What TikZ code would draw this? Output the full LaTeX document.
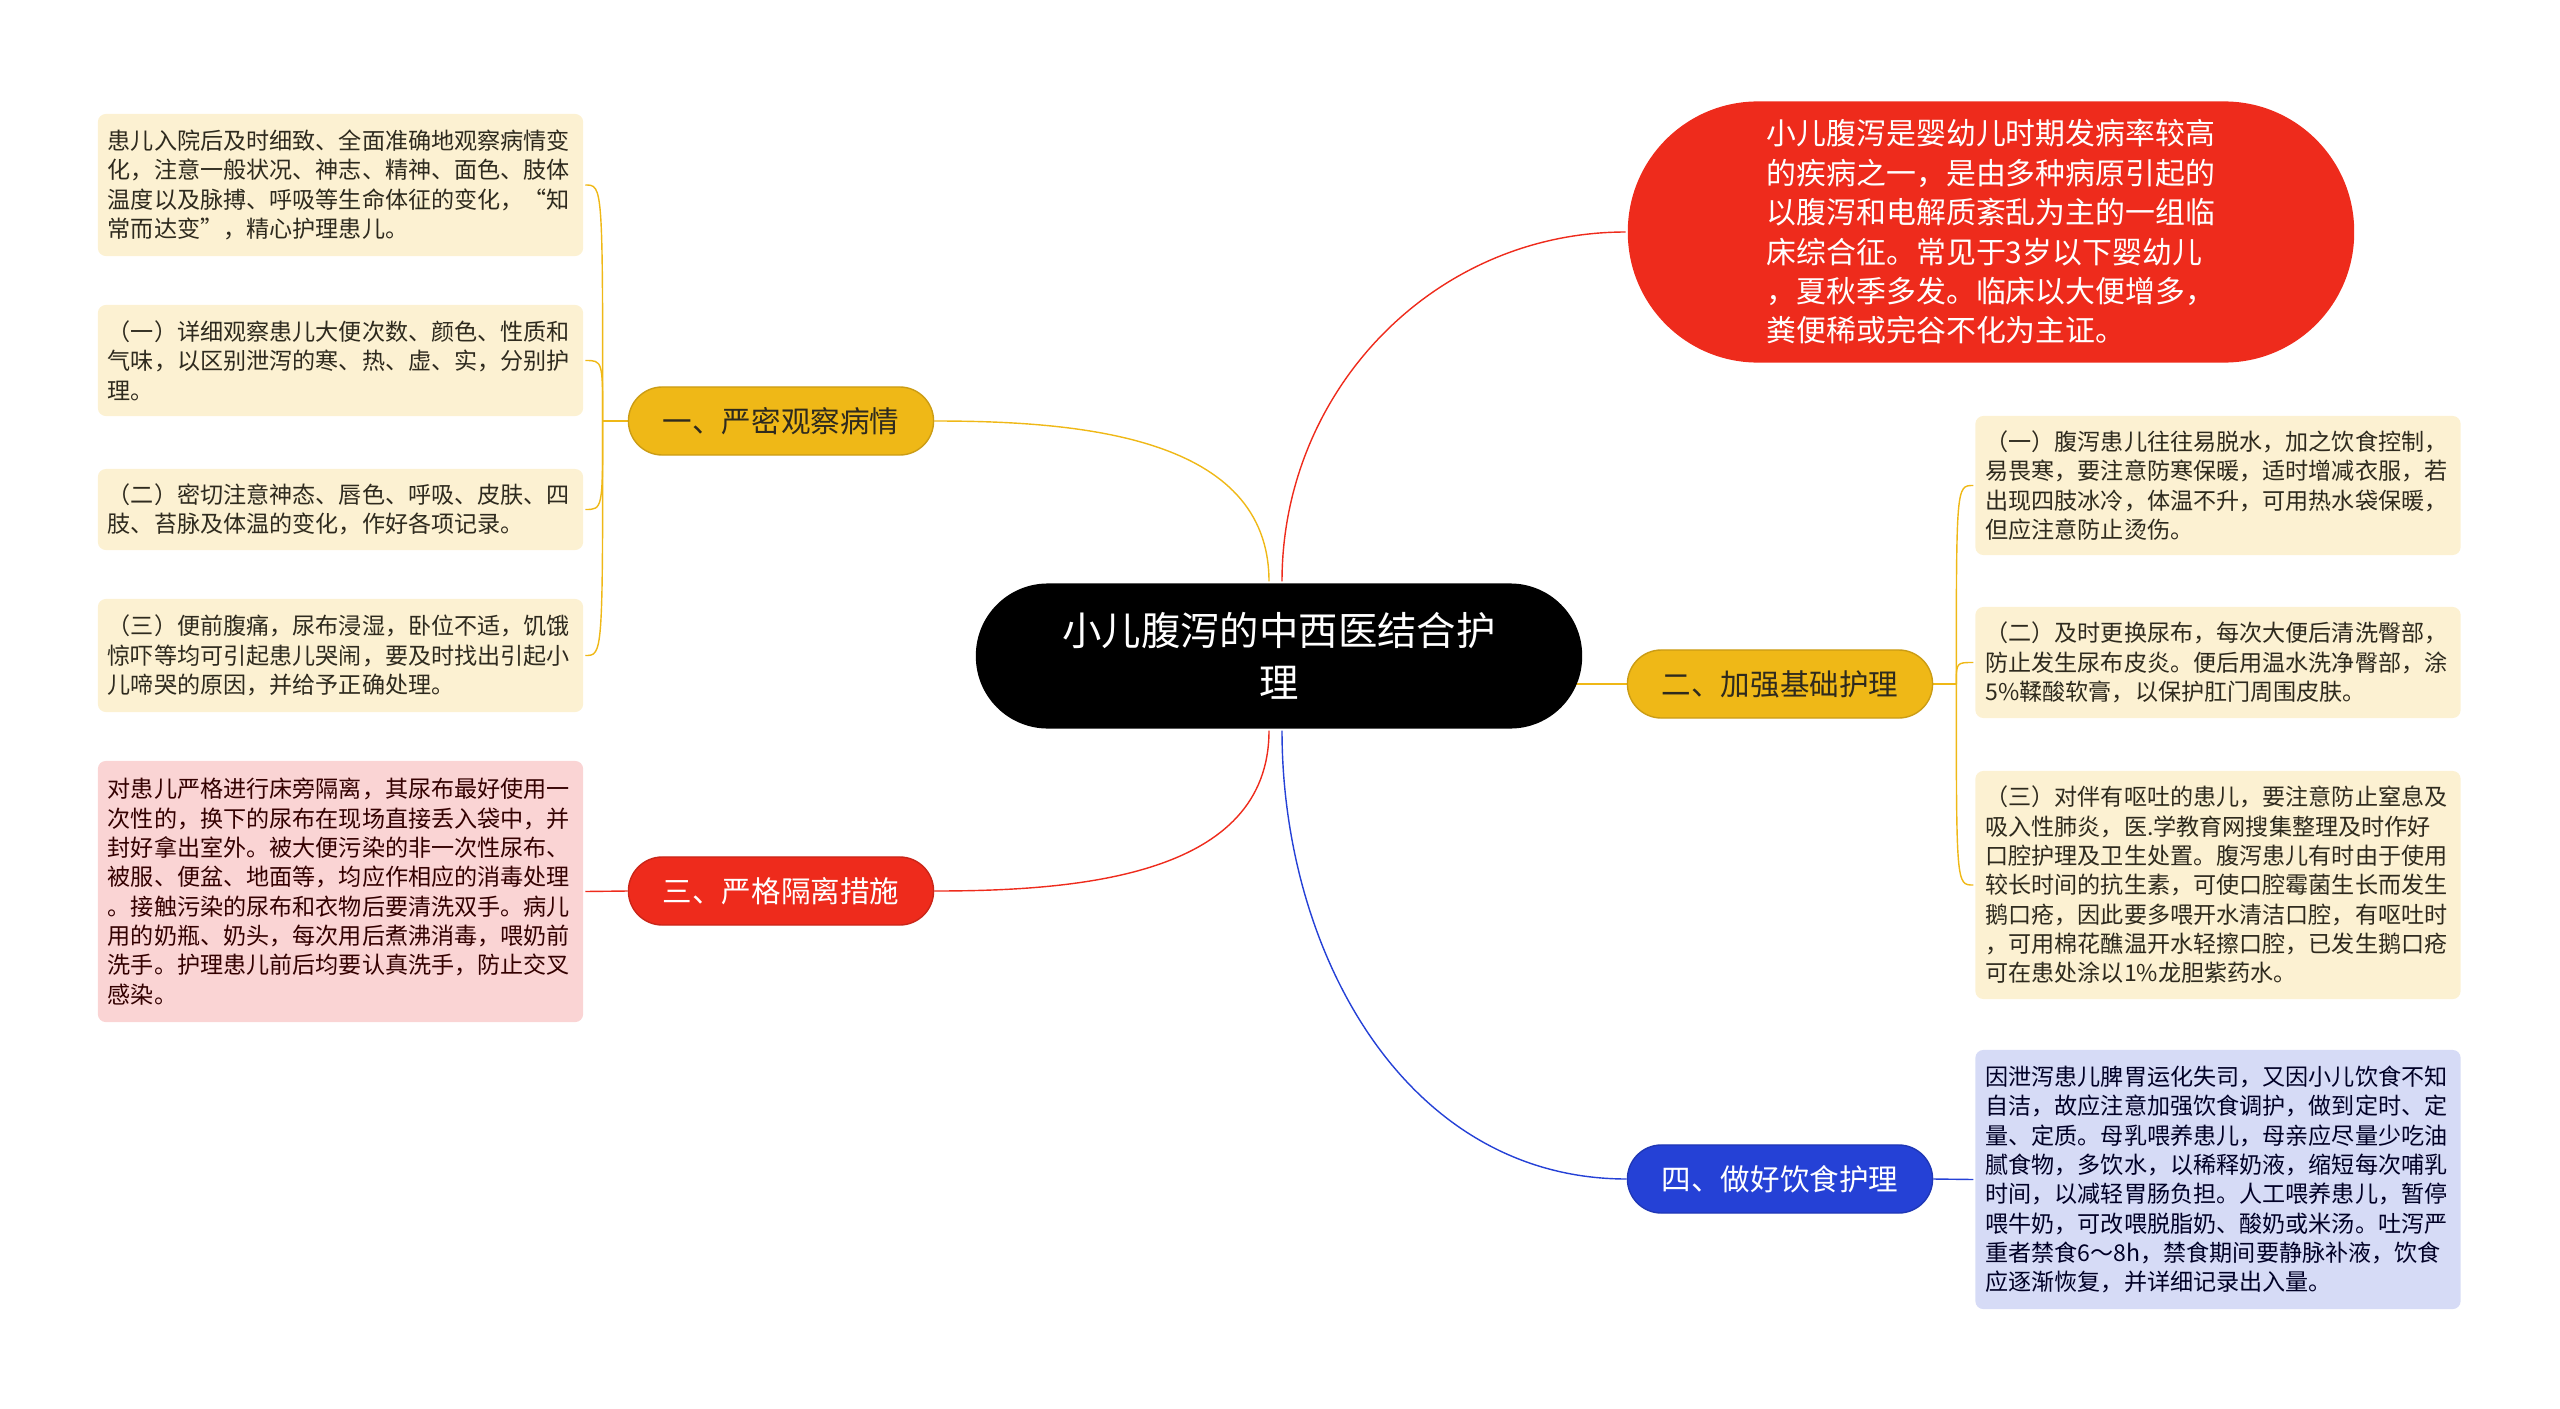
\documentclass[tikz,border=0pt]{standalone}
\usepackage{fontspec}
\setmainfont{Noto Sans CJK SC}
\usetikzlibrary{backgrounds}

\definecolor{mmyellow}{HTML}{EFB817}
\definecolor{mmred}{HTML}{EE2B1C}
\definecolor{mmblue}{HTML}{2541D6}
\definecolor{leafcream}{HTML}{FCF1D2}
\definecolor{leafpink}{HTML}{FAD4D4}
\definecolor{leafblue}{HTML}{D6DBF6}
\definecolor{darktext}{HTML}{2E2A1E}

\begin{document}
\begin{tikzpicture}[
                x=0.01cm, y=-0.01cm,
                line width=1.2pt,
                root/.style={fill=black,text=white,rounded corners=0.72cm,minimum width=6.06cm,minimum height=1.45cm,align=center,font=\fontsize{11.2pt}{14.8pt}\selectfont},
                summ/.style={fill=mmred,text=white,rounded corners=1.3cm,minimum width=7.26cm,minimum height=2.61cm,align=left,font=\fontsize{8.5pt}{11.2pt}\selectfont},
                branch/.style={rounded corners=0.34cm,minimum width=3.05cm,minimum height=0.68cm,inner sep=0pt,line width=0.4pt,font=\fontsize{8.4pt}{10pt}\selectfont},
                leaf/.style={rounded corners=0.08cm,text width=4.65cm,inner xsep=0.1cm,inner ysep=0pt,align=left,font=\fontsize{6.57pt}{8.34pt}\selectfont},
                ylink/.style={draw=mmyellow},
                rlink/.style={draw=mmred},
                blink/.style={draw=mmblue}] %

\useasboundingbox (0,0) rectangle (2560,1409);

% root
\node[root] (CENTER) at (1279,656) {小儿腹泻的中西医结合护\\理};

\node[summ] (SUMM) at (1991,232) {小儿腹泻是婴幼儿时期发病率较高\\
的疾病之一，是由多种病原引起的\\
以腹泻和电解质紊乱为主的一组临\\
床综合征。常见于3岁以下婴幼儿\\
，夏秋季多发。临床以大便增多，\\
粪便稀或完谷不化为主证。};

%%%%%%%%%%%%%%%%%%%%%%%%%%%%%%%%%%%%%%%%%%%%%%%%%%%%%%%%%%%%%%%%%%%%%%%%%%%%%%%%%%%%

                    % 1
                    \node[branch,fill=mmyellow,draw=mmyellow!85!black,text=darktext] (OBS) at (781,421) {一、严密观察病情};
                    \coordinate (OBSJ) at ([xshift=-0.25cm]OBS.west);

                    \node[leaf,fill=leafcream,text=darktext,minimum height=1.42cm] (OBS0) at (340.5,185) {患儿入院后及时细致、全面准确地观察病情变\\
化，注意一般状况、神志、精神、面色、肢体\\
温度以及脉搏、呼吸等生命体征的变化，“知\\
常而达变”，精心护理患儿。};
                    \node[leaf,fill=leafcream,text=darktext,minimum height=1.11cm] (OBS1) at (340.5,360.5) {（一）详细观察患儿大便次数、颜色、性质和\\
气味，以区别泄泻的寒、热、虚、实，分别护\\
理。};
                    \node[leaf,fill=leafcream,text=darktext,minimum height=0.81cm] (OBS2) at (340.5,509.5) {（二）密切注意神态、唇色、呼吸、皮肤、四\\
肢、苔脉及体温的变化，作好各项记录。};
                    \node[leaf,fill=leafcream,text=darktext,minimum height=1.13cm] (OBS3) at (340.5,655.5) {（三）便前腹痛，尿布浸湿，卧位不适，饥饿\\
惊吓等均可引起患儿哭闹，要及时找出引起小\\
儿啼哭的原因，并给予正确处理。};


                    % 2
                    \node[branch,fill=mmyellow,draw=mmyellow!85!black,text=darktext] (BASIC) at (1780,684) {二、加强基础护理};
                    \coordinate (BASICJ) at ([xshift=0.23cm]BASIC.east);

                    \node[leaf,fill=leafcream,text=darktext,minimum height=1.39cm] (BASIC1) at (2218,485.5) {（一）腹泻患儿往往易脱水，加之饮食控制，\\
易畏寒，要注意防寒保暖，适时增减衣服，若\\
出现四肢冰冷，体温不升，可用热水袋保暖，\\
但应注意防止烫伤。};
                    \node[leaf,fill=leafcream,text=darktext,minimum height=1.11cm] (BASIC2) at (2218,662.5) {（二）及时更换尿布，每次大便后清洗臀部，\\
防止发生尿布皮炎。便后用温水洗净臀部，涂\\
5\%鞣酸软膏，以保护肛门周围皮肤。};
                    \node[leaf,fill=leafcream,text=darktext,minimum height=2.28cm] (BASIC3) at (2218,885) {（三）对伴有呕吐的患儿，要注意防止窒息及\\
吸入性肺炎，医.学教育网搜集整理及时作好\\
口腔护理及卫生处置。腹泻患儿有时由于使用\\
较长时间的抗生素，可使口腔霉菌生长而发生\\
鹅口疮，因此要多喂开水清洁口腔，有呕吐时\\
，可用棉花醮温开水轻擦口腔，已发生鹅口疮\\
可在患处涂以1\%龙胆紫药水。};


                    % 3
                    \node[branch,fill=mmred,draw=mmred!85!black,text=white] (ISOL) at (781,891) {三、严格隔离措施};

                    \node[leaf,fill=leafpink,text=black!80!red,minimum height=2.61cm] (ISOL1) at (340.5,891.5) {对患儿严格进行床旁隔离，其尿布最好使用一\\
次性的，换下的尿布在现场直接丢入袋中，并\\
封好拿出室外。被大便污染的非一次性尿布、\\
被服、便盆、地面等，均应作相应的消毒处理\\
。接触污染的尿布和衣物后要清洗双手。病儿\\
用的奶瓶、奶头，每次用后煮沸消毒，喂奶前\\
洗手。护理患儿前后均要认真洗手，防止交叉\\
感染。};


                    % 4
                    \node[branch,fill=mmblue,draw=mmblue!85!black,text=white] (DIET) at (1780,1179) {四、做好饮食护理};

                    \node[leaf,fill=leafblue,text=black!85!blue,minimum height=2.59cm] (DIET1) at (2218,1179.5) {因泄泻患儿脾胃运化失司，又因小儿饮食不知\\
自洁，故应注意加强饮食调护，做到定时、定\\
量、定质。母乳喂养患儿，母亲应尽量少吃油\\
腻食物，多饮水，以稀释奶液，缩短每次哺乳\\
时间，以减轻胃肠负担。人工喂养患儿，暂停\\
喂牛奶，可改喂脱脂奶、酸奶或米汤。吐泻严\\
重者禁食6～8h，禁食期间要静脉补液，饮食\\
应逐渐恢复，并详细记录出入量。};

%%%%%%%%%%%%%%%%%%%%%%%%%%%%%%%%%%%%%%%%%%%%%%%%%%%%%%%%%%%%%%%%%%%%%%%%%%%%%%%%%%%%

% links
\begin{scope}[on background layer]
  \draw[ylink] ([xshift=-0.1cm]CENTER.north) to[out=90,in=0] (OBS.east);
  \draw[rlink] ([xshift=0.03cm]CENTER.north) to[out=90,in=180] (SUMM.west);
  \draw[ylink] (CENTER.center |- BASIC.west) -- (BASIC.west);
  \draw[rlink] ([xshift=-0.1cm]CENTER.south) to[out=-90,in=0] (ISOL.east);
  \draw[blink] ([xshift=0.03cm]CENTER.south) to[out=-90,in=180] (DIET.west);

  \draw[ylink] (OBS.west) -- (OBSJ);
  \foreach \leaf in {OBS0,OBS1,OBS2,OBS3}
    \draw[ylink] (OBSJ) .. controls (OBSJ |- \leaf.east) .. (\leaf.east);

  \draw[ylink] (BASIC.east) -- (BASICJ);
  \foreach \leaf in {BASIC1,BASIC2,BASIC3}
    \draw[ylink] (BASICJ) .. controls (BASICJ |- \leaf.west) .. (\leaf.west);

  \draw[rlink] (ISOL.west) -- (ISOL1.east);
  \draw[blink] (DIET.east) -- (DIET1.west);
\end{scope}

\end{tikzpicture}
\end{document}
